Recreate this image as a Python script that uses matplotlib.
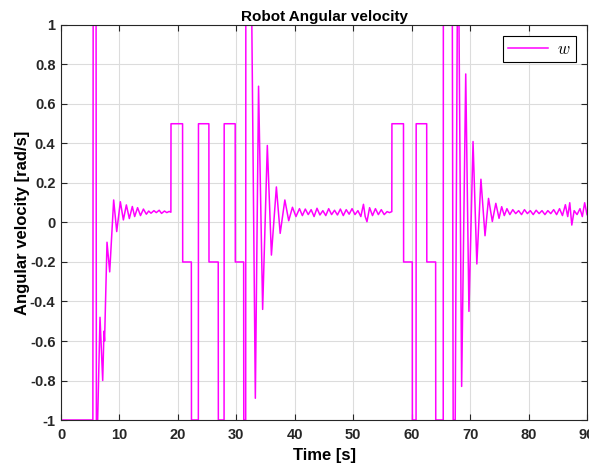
import matplotlib
matplotlib.use("Agg")
import matplotlib.pyplot as plt
import numpy as np

plt.rcParams['font.family'] = ['Liberation Sans', 'DejaVu Sans']
plt.rcParams['font.weight'] = 'bold'
plt.rcParams['mathtext.fontset'] = 'cm'

# breakpoints (time [s], w [rad/s]), one list pair per phase
t_start = [0, 0.01, 5.45, 5.5, 6.0, 6.05, 6.27, 6.67, 7.13, 7.35, 7.45, 7.87, 8.33,
           9.01, 9.53, 10.15, 10.67, 11.18, 11.69, 12.2, 12.6, 13.1, 13.6, 14.1,
           14.6, 15.0, 15.4, 15.9, 16.3, 16.8, 17.2, 17.7, 18.1, 18.5, 18.8]
w_start = [1, -1, -1, 1, 1, -1, -1, -0.48, -0.80, -0.55, -0.60, -0.10, -0.25,
           0.114, -0.046, 0.105, 0.013, 0.089, 0.02, 0.081, 0.03, 0.075, 0.035, 0.068,
           0.042, 0.058, 0.047, 0.06, 0.05, 0.062, 0.046, 0.058, 0.05, 0.056, 0.052]

t_pulse1 = [18.82, 20.8, 20.82, 22.3, 22.32, 23.5, 23.52, 25.3, 25.32, 26.9, 26.92,
            27.9, 27.92, 29.8, 29.82, 31.25, 31.27, 31.6, 31.62, 32.65]
w_pulse1 = [0.5, 0.5, -0.2, -0.2, -1, -1, 0.5, 0.5, -0.2, -0.2, -1,
            -1, 0.5, 0.5, -0.2, -0.2, -1, -1, 1, 1]

t_settle1 = [33.25, 33.8, 34.5, 35.3, 36.0, 36.85, 37.5, 38.3, 38.96, 39.6,
             40.2, 40.8, 41.3, 41.8, 42.3, 42.8, 43.3, 43.8, 44.3, 44.8, 45.3,
             45.8, 46.3, 46.8, 47.3, 47.8, 48.3, 48.8, 49.3, 49.8, 50.3, 50.8,
             51.3, 51.75, 52.05, 52.35, 52.8, 53.3, 53.8, 54.3, 54.8, 55.3, 55.8,
             56.2, 56.6]
w_settle1 = [-0.89, 0.69, -0.44, 0.39, -0.165, 0.18, -0.055, 0.114, 0.009, 0.077,
             0.03, 0.07, 0.035, 0.068, 0.04, 0.065, 0.03, 0.072, 0.038, 0.06, 0.035,
             0.07, 0.04, 0.062, 0.038, 0.068, 0.035, 0.065, 0.042, 0.07, 0.04, 0.06,
             0.03, 0.092, 0.03, 0.004, 0.075, 0.035, 0.07, 0.04, 0.065, 0.04, 0.055,
             0.05, 0.055]

t_pulse2 = [56.62, 58.6, 58.62, 60.1, 60.12, 60.75, 60.77, 62.57, 62.59, 64.1,
            64.12, 65.4, 65.42, 66.96, 67.1, 67.45, 67.8, 68.1]
w_pulse2 = [0.5, 0.5, -0.2, -0.2, -1, -1, 0.5, 0.5, -0.2, -0.2,
            -1, -1, 1, 1, -1, -1, 1, 1]

t_settle2 = [68.55, 69.25, 69.8, 70.5, 71.15, 71.85, 72.55, 73.15, 73.8, 74.4,
             74.95, 75.4, 75.85, 76.3, 76.8, 77.3, 77.8, 78.3, 78.8, 79.3, 79.8,
             80.3, 80.8, 81.3, 81.8, 82.3, 82.8, 83.3, 83.8, 84.3, 84.8, 85.3,
             85.8, 86.3, 86.7, 87.05, 87.4, 87.8, 88.3, 88.8, 89.2, 89.6, 90.0]
w_settle2 = [-0.83, 0.752, -0.45, 0.41, -0.21, 0.219, -0.067, 0.122, 0.005, 0.097,
             0.021, 0.08, 0.035, 0.07, 0.04, 0.065, 0.045, 0.06, 0.04, 0.065, 0.045,
             0.06, 0.04, 0.062, 0.045, 0.06, 0.04, 0.06, 0.045, 0.065, 0.04, 0.07,
             0.035, 0.09, 0.03, 0.1, -0.013, 0.06, 0.04, 0.07, 0.03, 0.1, 0.04]

x_ticks = [0, 10, 20, 30, 40, 50, 60, 70, 80, 90]
y_ticks = [-1, -0.8, -0.6, -0.4, -0.2, 0, 0.2, 0.4, 0.6, 0.8, 1]
y_tick_labels = ['-1', '-0.8', '-0.6', '-0.4', '-0.2', '0', '0.2', '0.4', '0.6', '0.8', '1']

t = np.concatenate([t_start, t_pulse1, t_settle1, t_pulse2, t_settle2])
w = np.concatenate([w_start, w_pulse1, w_settle1, w_pulse2, w_settle2])

axis_col = '#262626'

fig = plt.figure(figsize=(5.89, 4.66), dpi=100)
ax = fig.add_axes([0.1036, 0.0987, 0.893, 0.8477])

ax.plot(t, w, color='#ff00ff', lw=1.1, label='$w$')

ax.set_xlim(0, 90)
ax.set_ylim(-1, 1)
ax.set_xticks(x_ticks)
ax.set_yticks(y_ticks)
ax.set_yticklabels(y_tick_labels)

ax.grid(True, color='#dcdcdc', lw=0.8)
ax.set_axisbelow(True)
ax.tick_params(direction='in', top=True, right=True, length=4, width=0.8,
               color=axis_col, labelcolor=axis_col, labelsize=10.5)
ax.tick_params(axis='y', pad=4)
ax.tick_params(axis='x', pad=6)
for s in ax.spines.values():
    s.set_color(axis_col)
    s.set_linewidth(0.8)

ax.set_title('Robot Angular velocity', fontsize=11, fontweight='bold', pad=3)
ax.set_xlabel('Time [s]', fontsize=12, fontweight='bold', labelpad=4)
ax.set_ylabel('Angular velocity [rad/s]', fontsize=12, fontweight='bold', labelpad=0)

leg = ax.legend(loc='upper right', fancybox=False, edgecolor='black', framealpha=1,
                handlelength=2.4, handletextpad=0.5, borderpad=0.35,
                fontsize=12, borderaxespad=0.65)
leg.get_frame().set_linewidth(0.8)

fig.savefig('out.png', dpi=100)
